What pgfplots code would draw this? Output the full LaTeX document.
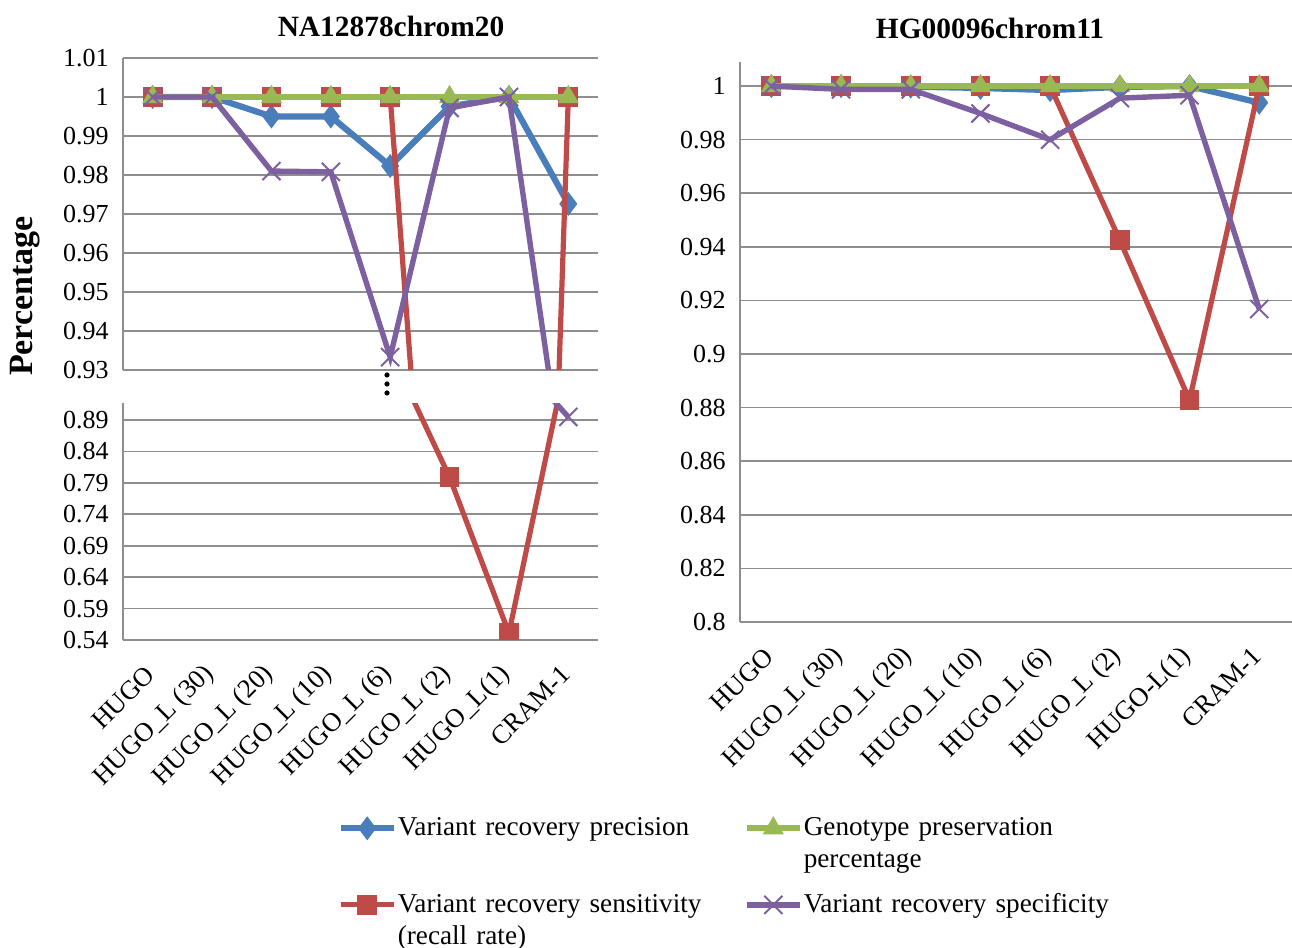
\documentclass[border=0pt]{standalone}
\usepackage{pgfplots}
\pgfplotsset{compat=1.18}
\usepackage{fontspec}
\setmainfont{Liberation Serif}

\definecolor{cblue}{HTML}{4A7EBB}
\definecolor{cred}{HTML}{BE4B48}
\definecolor{cgreen}{HTML}{98B954}
\definecolor{cpurple}{HTML}{7D60A0}
\definecolor{cgrid}{HTML}{8E8E8E}

\pgfplotsset{
  excel/.style={
    scale only axis,
    anchor=south west,
    axis y line*=left,
    axis x line*=bottom,
    x axis line style={draw=none},
    y axis line style={draw=cgrid, line width=0.8pt},
    ymajorgrids,
    grid style={cgrid, line width=0.8pt},
    major tick length=0pt,
    clip marker paths=true,
    xtick={0,...,7},
    /pgf/number format/assume math mode=true,
    yticklabel style={font=\fontsize{13}{15}\selectfont, anchor=east, inner sep=0pt, xshift=-7pt},
    xticklabel style={font=\fontsize{13.3}{15}\selectfont, xshift=-1pt, yshift=-15pt, rotate=45, anchor=east, inner sep=0pt},
  },
  sprec/.style={cblue, line width=3.1pt, mark=diamond*, mark size=5.6pt,
    mark options={solid, fill=cblue, line width=0.5pt, scale=1}},
  ssens/.style={cred, line width=2.6pt, mark=square*, mark size=4.7pt,
    mark options={solid, fill=cred, line width=0.5pt}},
  sgeno/.style={cgreen, line width=3pt, mark=triangle*, mark size=5.6pt,
    mark options={solid, fill=cgreen, line width=0.5pt}},
  sspec/.style={cpurple, line width=2.7pt, mark=x, mark size=6.4pt,
    mark options={solid, line width=1pt}},
}

\begin{document}
\begin{tikzpicture}
\useasboundingbox (0,0) rectangle (646pt,474pt);

% left chart, upper part
\begin{axis}[excel, at={(61.5pt,289pt)}, width=237.5pt, height=156pt,
  xmin=-0.5, xmax=7.5, ymin=0.93, ymax=1.01,
  ytick={0.93,0.94,0.95,0.96,0.97,0.98,0.99,1,1.01},
  yticklabels={0.93,0.94,0.95,0.96,0.97,0.98,0.99,1,1.01},
  xticklabels={}]
  \addplot[sprec] coordinates {(0,1)(1,1)(2,0.995)(3,0.995)(4,0.9823)(5,0.9976)(6,1)(7,0.9726)};
  \addplot[ssens] coordinates {(0,1)(1,1)(2,1)(3,1)(4,1)(5,0.799)(6,0.551)(7,1)};
  \addplot[sgeno] coordinates {(0,1)(1,1)(2,1)(3,1)(4,1)(5,1)(6,1)(7,1)};
  \addplot[sspec] coordinates {(0,1)(1,1)(2,0.981)(3,0.9808)(4,0.9333)(5,0.9972)(6,1)(7,0.8948)};
\end{axis}

% left chart, lower part
\begin{axis}[excel, at={(61.5pt,154pt)}, width=237.5pt, height=118.5pt,
  xmin=-0.5, xmax=7.5, ymin=0.54, ymax=0.917,
  ytick={0.54,0.59,0.64,0.69,0.74,0.79,0.84,0.89},
  yticklabels={0.54,0.59,0.64,0.69,0.74,0.79,0.84,0.89},
  xticklabels={HUGO,HUGO\_L (30),HUGO\_L (20),HUGO\_L (10),HUGO\_L (6),HUGO\_L (2),HUGO\_L(1),CRAM-1}]
  \addplot[sprec] coordinates {(0,1)(1,1)(2,0.995)(3,0.995)(4,0.9823)(5,0.9976)(6,1)(7,0.9726)};
  \addplot[ssens] coordinates {(0,1)(1,1)(2,1)(3,1)(4,1)(5,0.799)(6,0.551)(7,1)};
  \addplot[sgeno] coordinates {(0,1)(1,1)(2,1)(3,1)(4,1)(5,1)(6,1)(7,1)};
  \addplot[sspec] coordinates {(0,1)(1,1)(2,0.981)(3,0.9808)(4,0.9333)(5,0.9972)(6,1)(7,0.8948)};
\end{axis}

% right chart
\begin{axis}[excel, at={(370pt,163pt)}, width=276pt, height=280pt,
  xmin=-0.45, xmax=7.47, ymin=0.8, ymax=1.009,
  ytick={0.8,0.82,0.84,0.86,0.88,0.9,0.92,0.94,0.96,0.98,1},
  yticklabels={0.8,0.82,0.84,0.86,0.88,0.9,0.92,0.94,0.96,0.98,1},
  xticklabels={HUGO,HUGO\_L (30),HUGO\_L (20),HUGO\_L (10),HUGO\_L (6),HUGO\_L (2),HUGO-L(1),CRAM-1}]
  \addplot[sprec] coordinates {(0,1)(1,1)(2,0.9998)(3,0.9993)(4,0.9985)(5,0.9997)(6,1)(7,0.9938)};
  \addplot[ssens] coordinates {(0,1)(1,1)(2,1)(3,1)(4,1)(5,0.9425)(6,0.8828)(7,1)};
  \addplot[sgeno] coordinates {(0,1)(1,1)(2,1)(3,1)(4,1)(5,1)(6,1)(7,1)};
  \addplot[sspec] coordinates {(0,1)(1,0.9988)(2,0.9988)(3,0.9898)(4,0.98)(5,0.9955)(6,0.9966)(7,0.9168)};
\end{axis}

% legend
\begin{axis}[scale only axis, anchor=south west, at={(0pt,0pt)},
  width=646pt, height=474pt, hide axis, xmin=0, xmax=1, ymin=0, ymax=1,
  legend columns=2,
  legend cell align=left,
  legend image code/.code={\draw[mark repeat=2, mark phase=2, #1]
    plot coordinates {(0pt,0pt) (13.25pt,0pt) (26.5pt,0pt)};},
  legend style={at={(0.261,0.142)}, anchor=north west, draw=none, fill=none,
    inner sep=0pt, row sep=23.5pt, font=\fontsize{13.6}{16}\selectfont,
    nodes={text width=172.5pt, align=left, inner xsep=0.5pt}}]
  \addlegendimage{sprec}
  \addlegendentry{Variant recovery precision}
  \addlegendimage{sgeno}
  \addlegendentry{Genotype preservation\\percentage}
  \addlegendimage{ssens}
  \addlegendentry{Variant recovery sensitivity\\(recall rate)}
  \addlegendimage{sspec}
  \addlegendentry{Variant recovery specificity}
\end{axis}

% titles, axis label, break mark
\node[font=\fontsize{14.7}{17}\selectfont\bfseries] at (195.5pt,461pt) {NA12878chrom20};
\node[font=\fontsize{14.7}{17}\selectfont\bfseries] at (495pt,460pt) {HG00096chrom11};
\node[font=\fontsize{17}{20}\selectfont\bfseries, rotate=90] at (12.5pt,326pt) {Percentage};
\fill (193.5pt,286.5pt) circle (1.3pt) (193.5pt,282pt) circle (1.3pt) (193.5pt,277.5pt) circle (1.3pt);
\end{tikzpicture}
\end{document}
